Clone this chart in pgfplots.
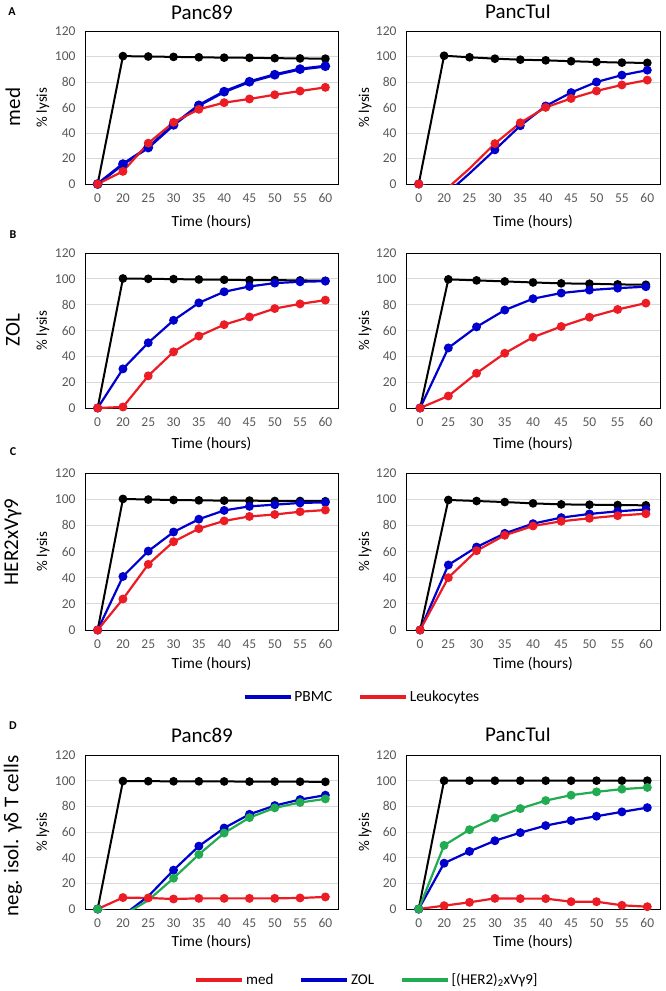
\documentclass[border=0pt]{standalone}
\usepackage{fontspec}
\setmainfont{Carlito}
\usepackage{pgfplots}
\pgfplotsset{compat=1.18}
\usepackage{pgfplotstable}

\definecolor{cBlue}{RGB}{0,0,204}
\definecolor{cRed}{RGB}{236,28,36}
\definecolor{cGreen}{RGB}{34,172,82}
\definecolor{tickgray}{RGB}{89,89,89}
\definecolor{gridgray}{RGB}{217,217,217}

\newcommand{\fs}[1]{\fontsize{#1}{#1}\selectfont}

% x = category index (0 = 0 h, 1 = 20 h, 2 = 25 h, ...)
\pgfplotstableread{
x blk   pbmc  leuk
0 0     0     0
1 100.3 15.6  9.9
2 100.0 28.6  32.0
3 99.7  46.4  48.4
4 99.4  61.7  58.6
5 99.1  72.4  63.8
6 99.0  80.2  66.7
7 98.7  85.7  70.0
8 98.5  90.1  72.9
9 98.3  92.4  75.8
}\tabAa
\pgfplotstableread{
x blk   pbmc  leuk
0 0     0     0
1 100.6 -9.4  -5.6
2 99.4  8.3   12.1
3 98.3  26.8  31.7
4 97.5  45.7  48.0
5 97.0  61.2  60.1
6 96.3  71.7  67.1
7 95.7  80.0  73.0
8 95.2  85.4  77.7
9 95.0  89.3  81.5
}\tabAb
\pgfplotstableread{
x blk   pbmc  leuk
0 0     0     0
1 100.3 30.3  0.8
2 100.0 50.5  24.9
3 99.8  67.9  43.5
4 99.5  81.4  55.7
5 99.3  90.0  64.5
6 99.0  94.1  70.5
7 99.0  96.7  77.0
8 98.8  97.7  80.6
9 98.5  98.2  83.5
}\tabBa
% 0 h, 25 h, 30 h, ... 60 h
\pgfplotstableread{
x blk   pbmc  leuk
0 0     0     0
1 99.6  46.5  9.3
2 98.8  62.8  26.9
3 98.0  75.8  42.4
4 97.2  84.6  54.8
5 96.5  89.0  63.1
6 96.2  91.3  70.3
7 95.7  92.8  76.3
8 95.4  93.9  81.2
}\tabBb
\pgfplotstableread{
x blk   pbmc  leuk
0 0     0     0
1 100.2 40.9  23.7
2 99.7  60.3  50.2
3 99.4  74.9  67.5
4 99.1  84.7  77.5
5 98.9  91.4  83.4
6 98.9  94.5  86.8
7 98.6  95.8  88.3
8 98.6  97.1  90.4
9 98.4  97.6  91.7
}\tabCa
\pgfplotstableread{
x blk   pbmc  leuk
0 0     0     0
1 99.4  49.7  40.0
2 98.6  63.4  60.6
3 97.8  73.9  72.4
4 96.8  81.3  79.5
5 96.0  85.9  83.1
6 95.8  88.7  85.4
7 95.5  90.7  87.4
8 95.3  92.2  88.9
}\tabCb
\pgfplotstableread{
x blk   med   zol   her
0 0     0     0     0
1 99.7  8.9   -5.0  -5.0
2 99.6  8.6   9.9   6.8
3 99.5  7.8   30.3  24.0
4 99.5  8.3   49.0  42.5
5 99.4  8.3   63.1  59.2
6 99.3  8.3   73.8  71.2
7 99.3  8.3   80.6  78.8
8 99.2  8.6   85.3  83.0
9 99.1  9.4   88.7  85.8
}\tabDa
\pgfplotstableread{
x blk   med   zol   her
0 0     0     0     0
1 100   2.6   35.7  49.6
2 100   5.2   44.9  61.8
3 100   8.3   53.2  70.9
4 100   8.1   59.5  78.3
5 100   8.1   65.0  84.5
6 100   5.7   68.9  88.7
7 100   5.7   72.3  91.3
8 100   2.9   75.7  93.4
9 100   1.8   79.0  94.7
}\tabDb

\pgfplotsset{
  panel/.style={
    scale only axis, anchor=south west,
    xmin=-0.5, xmax=9.5, ymin=0, ymax=120,
    xtick={0,...,9},
    xticklabels={0,20,25,30,35,40,45,50,55,60},
    ytick={0,20,...,120},
    ymajorgrids,
    grid style={draw=gridgray, line width=0.9pt},
    major tick length=0pt,
    axis line style={line width=0.9pt, black},
    tick label style={font=\fs{13.5}, text=tickgray},
    /pgf/number format/assume math mode=true,
    xticklabel style={yshift=-6pt},
    yticklabel style={xshift=-6pt},
    xlabel={Time (hours)},
    ylabel={\% lysis},
    xlabel style={font=\fs{15.5}, anchor=center},
    ylabel style={font=\fs{15}, anchor=center},
    legend image code/.code={\draw[##1, mark=none, line width=3.5pt] (0pt,0pt) -- (46pt,0pt);},
    legend style={draw=none, fill=none, font=\fs{15.5}, legend columns=-1,
      /tikz/every even column/.append style={column sep=24pt}},
  },
  ninecat/.style={xmax=8.5, xtick={0,...,8}, xticklabels={0,25,30,35,40,45,50,55,60}},
  lcol/.style={width=253pt, ylabel style={at={(axis description cs:-0.166,0.5)}}},
  rcol/.style={width=254pt, ylabel style={at={(axis description cs:-0.161,0.5)}}},
  sblk/.style={black, line width=2pt, mark=*, mark size=3.3pt},
  spb/.style={cBlue, line width=2.2pt, mark=*, mark size=3.3pt},
  sle/.style={cRed, line width=2.2pt, mark=*, mark size=3.3pt},
  sgr/.style={cGreen, line width=2.2pt, mark=*, mark size=3.3pt},
}

\begin{document}
\begin{tikzpicture}
\useasboundingbox (0,0) rectangle (666pt,-991pt);

% ---- A ----
\begin{axis}[panel, lcol, at={(85pt,-184pt)}, height=153pt,
  xlabel style={at={(axis description cs:0.5,-0.248)}}]
\addplot[sblk] table[x=x,y=blk]{\tabAa};
\addplot[spb, line width=3pt] table[x=x,y=pbmc]{\tabAa};
\addplot[sle] table[x=x,y=leuk]{\tabAa};
\end{axis}
\begin{axis}[panel, rcol, at={(406pt,-184pt)}, height=153pt,
  xlabel style={at={(axis description cs:0.5,-0.248)}}]
\addplot[sblk] table[x=x,y=blk]{\tabAb};
\addplot[spb, mark indices={1,3,4,5,6,7,8,9,10}] table[x=x,y=pbmc]{\tabAb};
\addplot[sle, mark indices={1,3,4,5,6,7,8,9,10}] table[x=x,y=leuk]{\tabAb};
\end{axis}

% ---- B ----
\begin{axis}[panel, lcol, at={(85pt,-408pt)}, height=155pt,
  xlabel style={at={(axis description cs:0.5,-0.232)}}]
\addplot[sblk] table[x=x,y=blk]{\tabBa};
\addplot[spb] table[x=x,y=pbmc]{\tabBa};
\addplot[sle] table[x=x,y=leuk]{\tabBa};
\end{axis}
\begin{axis}[panel, rcol, ninecat, at={(406pt,-408pt)}, height=155pt,
  xlabel style={at={(axis description cs:0.5,-0.232)}}]
\addplot[sblk] table[x=x,y=blk]{\tabBb};
\addplot[spb] table[x=x,y=pbmc]{\tabBb};
\addplot[sle] table[x=x,y=leuk]{\tabBb};
\end{axis}

% ---- C ----
\begin{axis}[panel, lcol, at={(85pt,-630pt)}, height=157pt,
  xlabel style={at={(axis description cs:0.5,-0.217)}},
  legend style={at={(axis description cs:1.095,-0.427)}, anchor=center}]
\addplot[sblk, forget plot] table[x=x,y=blk]{\tabCa};
\addplot[spb] table[x=x,y=pbmc]{\tabCa};
\addlegendentry{PBMC}
\addplot[sle] table[x=x,y=leuk]{\tabCa};
\addlegendentry{Leukocytes}
\end{axis}
\begin{axis}[panel, rcol, ninecat, at={(406pt,-630pt)}, height=157pt,
  xlabel style={at={(axis description cs:0.5,-0.217)}}]
\addplot[sblk] table[x=x,y=blk]{\tabCb};
\addplot[spb] table[x=x,y=pbmc]{\tabCb};
\addplot[sle] table[x=x,y=leuk]{\tabCb};
\end{axis}

% ---- D ----
\begin{axis}[panel, lcol, at={(85pt,-909pt)}, height=154pt,
  xlabel style={at={(axis description cs:0.5,-0.214)}},
  legend style={at={(axis description cs:1.115,-0.461)}, anchor=center, font=\fs{15}}]
\addplot[sblk, forget plot] table[x=x,y=blk]{\tabDa};
\addplot[sle] table[x=x,y=med]{\tabDa};
\addlegendentry{med}
\addplot[spb, mark indices={1,3,4,5,6,7,8,9,10}] table[x=x,y=zol]{\tabDa};
\addlegendentry{ZOL}
\addplot[sgr, mark indices={1,3,4,5,6,7,8,9,10}] table[x=x,y=her]{\tabDa};
\addlegendentry{{[}(HER2)\textsubscript{2}xVγ9{]}}
\end{axis}
\begin{axis}[panel, rcol, at={(406pt,-909pt)}, height=154pt,
  xlabel style={at={(axis description cs:0.5,-0.214)}}]
\addplot[sblk] table[x=x,y=blk]{\tabDb};
\addplot[sle] table[x=x,y=med]{\tabDb};
\addplot[spb] table[x=x,y=zol]{\tabDb};
\addplot[sgr] table[x=x,y=her]{\tabDb};
\end{axis}

% ---- titles, letters, row labels ----
\node[font=\fs{21}] at (202pt,-12pt) {Panc89};
\node[font=\fs{21}] at (518pt,-12pt) {PancTuI};
\node[font=\fs{21}] at (202pt,-735pt) {Panc89};
\node[font=\fs{21}] at (518pt,-735pt) {PancTuI};

\node[font=\bfseries\fs{12}] at (12pt,-12pt) {A};
\node[font=\bfseries\fs{12}] at (13pt,-235pt) {B};
\node[font=\bfseries\fs{12}] at (13pt,-452pt) {C};
\node[font=\bfseries\fs{12}] at (13pt,-726pt) {D};

\node[rotate=90, font=\fs{21}] at (13pt,-107pt) {med};
\node[rotate=90, font=\fs{21}] at (13pt,-330pt) {ZOL};
\node[rotate=90, font=\fs{21}] at (13pt,-542pt) {HER2xVγ9};
\node[rotate=90, font=\fs{21}] at (13pt,-836pt) {neg. isol. γδ T cells};
\end{tikzpicture}
\end{document}
